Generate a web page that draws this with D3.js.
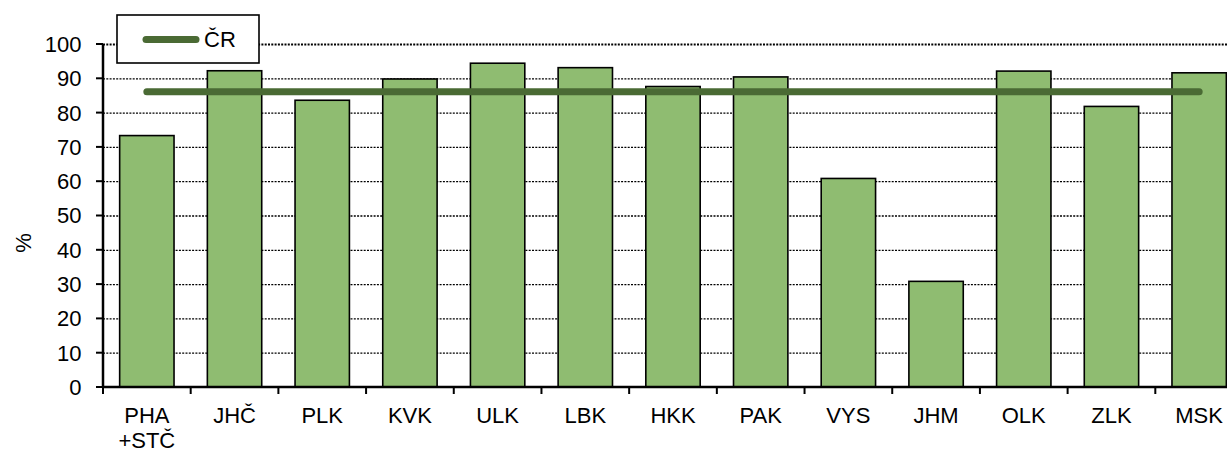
<!DOCTYPE html>
<html lang="cs">
<head>
    <meta charset="UTF-8">
    <title>Kraje</title>
    <script src="https://cdn.jsdelivr.net/npm/d3@7"></script>
    <style>
        body { margin: 0; background: #fff; }
        svg { display: block; }
    </style>
</head>
<body>

<script>

    // categories (second label line after \n)
    const regions = ["PHA\n+STČ", "JHČ", "PLK", "KVK", "ULK", "LBK", "HKK", "PAK", "VYS", "JHM", "OLK", "ZLK", "MSK"];
    const values = [73.3, 92.2, 83.6, 89.8, 94.4, 93.1, 87.6, 90.4, 60.8, 30.8, 92.1, 81.8, 91.6];
    const crValue = 86.1;
    const yTicks = [0, 10, 20, 30, 40, 50, 60, 70, 80, 90, 100];
    const legendLabel = "ČR";

    const width = 1227;
    const height = 452;
    const plotLeft = 103, plotTop = 44, plotBottom = 387;
    const plotRight = 1243; // the plot is cut at the right edge in the original

    const font = "'Liberation Sans', Arial, sans-serif";

    const svg = d3.select("body").append("svg")
        .attr("width", width)
        .attr("height", height)
        .style("font-family", font);

    const x = d3.scaleBand()
        .domain(regions)
        .range([plotLeft, plotRight])
        .paddingInner(0.38)
        .paddingOuter(0.19);

    const y = d3.scaleLinear()
        .domain([0, 100])
        .range([plotBottom, plotTop]);

    // dotted gridlines
    svg.append("g")
        .selectAll("line")
        .data(yTicks.filter(d => d > 0))
        .join("line")
        .attr("x1", plotLeft)
        .attr("x2", width)
        .attr("y1", d => y(d) + 0.5)
        .attr("y2", d => y(d) + 0.5)
        .attr("stroke", "#000")
        .attr("stroke-width", d => d === 100 ? 2 : 1.3)
        .attr("stroke-dasharray", "2,1.3");

    // bars
    svg.append("g")
        .selectAll("rect")
        .data(values)
        .join("rect")
        .attr("x", (d, i) => x(regions[i]))
        .attr("y", d => y(d))
        .attr("width", x.bandwidth())
        .attr("height", d => plotBottom - y(d))
        .attr("fill", "#8fbc71")
        .attr("stroke", "#000")
        .attr("stroke-width", 1.6);

    // ČR line from first to last category centre
    const half = x.bandwidth() / 2;
    svg.append("line")
        .attr("x1", x(regions[0]) + half)
        .attr("x2", x(regions[regions.length - 1]) + half)
        .attr("y1", y(crValue))
        .attr("y2", y(crValue))
        .attr("stroke", "#4a6a34")
        .attr("stroke-width", 7)
        .attr("stroke-linecap", "round");

    // y axis
    const yAxis = svg.append("g");
    yAxis.append("line")
        .attr("x1", plotLeft).attr("x2", plotLeft)
        .attr("y1", plotTop).attr("y2", plotBottom + 1)
        .attr("stroke", "#000").attr("stroke-width", 2.5);
    yAxis.selectAll("line.tick")
        .data(yTicks)
        .join("line")
        .attr("class", "tick")
        .attr("x1", plotLeft - 7).attr("x2", plotLeft)
        .attr("y1", d => y(d)).attr("y2", d => y(d))
        .attr("stroke", "#000").attr("stroke-width", 2);
    yAxis.selectAll("text")
        .data(yTicks)
        .join("text")
        .attr("x", 81.5)
        .attr("y", d => y(d))
        .attr("dy", "0.36em")
        .attr("text-anchor", "end")
        .attr("font-size", 22)
        .attr("fill", "#000")
        .text(d => d);

    svg.append("text")
        .attr("transform", "translate(31,243) rotate(-90)")
        .attr("text-anchor", "middle")
        .attr("font-size", 22)
        .text("%");

    // x axis
    const xAxis = svg.append("g");
    xAxis.append("line")
        .attr("x1", plotLeft - 1).attr("x2", width)
        .attr("y1", plotBottom).attr("y2", plotBottom)
        .attr("stroke", "#000").attr("stroke-width", 2.5);
    xAxis.selectAll("line.tick")
        .data(d3.range(regions.length + 1))
        .join("line")
        .attr("class", "tick")
        .attr("x1", i => plotLeft + i * x.step())
        .attr("x2", i => plotLeft + i * x.step())
        .attr("y1", plotBottom).attr("y2", plotBottom + 7)
        .attr("stroke", "#000").attr("stroke-width", 2);
    xAxis.selectAll("text")
        .data(regions)
        .join("text")
        .attr("x", d => x(d) + half)
        .attr("y", 423)
        .attr("text-anchor", "middle")
        .attr("font-size", 22)
        .attr("fill", "#000")
        .each(function (d) {
            const parts = d.split("\n");
            d3.select(this).selectAll("tspan")
                .data(parts)
                .join("tspan")
                .attr("x", x(d) + half)
                .attr("dy", (p, j) => j === 0 ? 0 : 24.5)
                .text(p => p);
        });

    // legend
    const legend = svg.append("g");
    legend.append("rect")
        .attr("x", 117).attr("y", 15)
        .attr("width", 142).attr("height", 48)
        .attr("fill", "#fff")
        .attr("stroke", "#000")
        .attr("stroke-width", 1.6);
    legend.append("line")
        .attr("x1", 146).attr("x2", 196)
        .attr("y1", 39.5).attr("y2", 39.5)
        .attr("stroke", "#4a6a34")
        .attr("stroke-width", 7)
        .attr("stroke-linecap", "round");
    legend.append("text")
        .attr("x", 204)
        .attr("y", 39.5)
        .attr("dy", "0.36em")
        .attr("font-size", 22)
        .text(legendLabel);

</script>

</body>
</html>
